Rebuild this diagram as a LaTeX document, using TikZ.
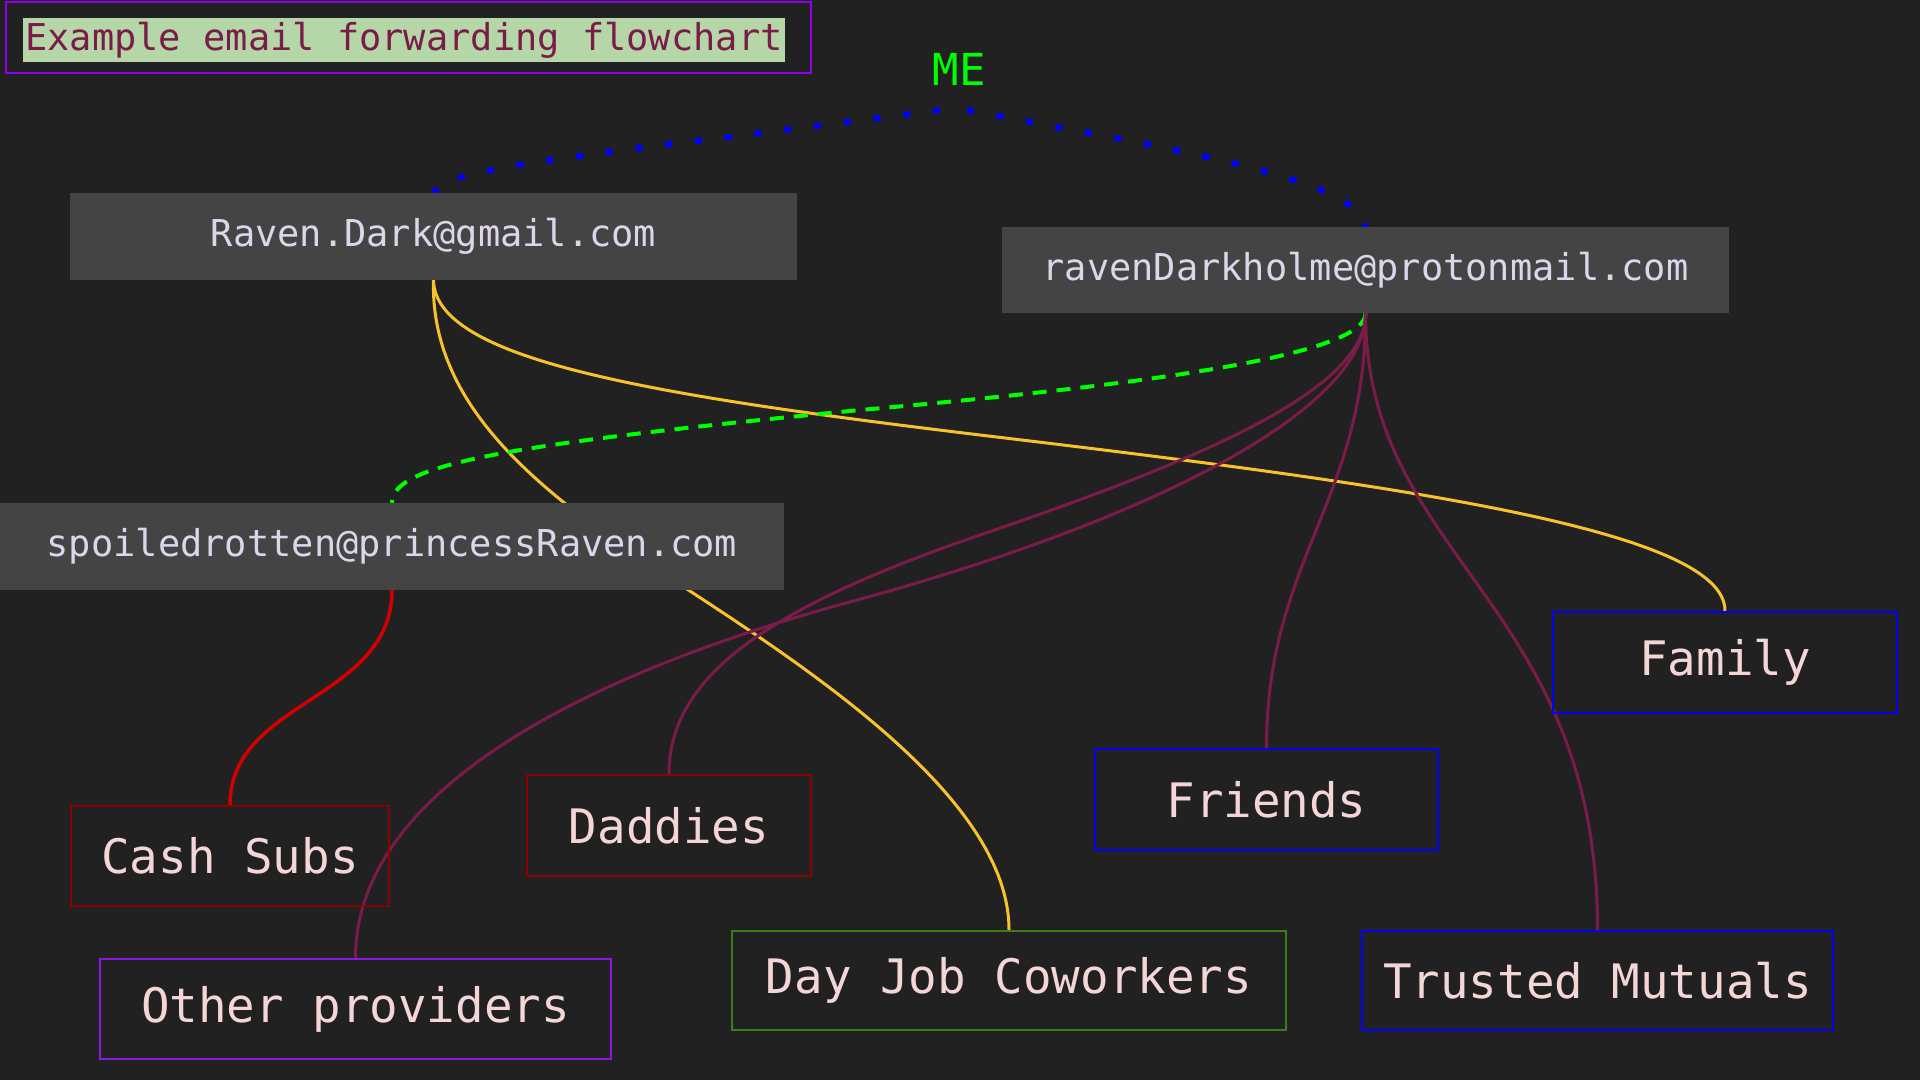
\documentclass[tikz,border=0pt]{standalone}
\usepackage{fontspec}
\setmonofont{DejaVu Sans Mono}
\usetikzlibrary{calc}
\definecolor{bgc}{HTML}{212121}
\definecolor{emailfill}{HTML}{444444}
\definecolor{emailtext}{HTML}{DDD5EA}
\definecolor{leaftext}{HTML}{F5D6D6}
\definecolor{goldline}{HTML}{F7C22C}
\definecolor{maroonline}{HTML}{7B1B4A}
\definecolor{greenline}{HTML}{00FF00}
\definecolor{blueline}{HTML}{0000FF}
\definecolor{redline}{HTML}{D40000}
\definecolor{titlefill}{HTML}{B5D7A8}
\definecolor{titletext}{HTML}{7B1B4A}
\definecolor{titleborder}{HTML}{9400E8}
\definecolor{darkredborder}{HTML}{8B0000}
\definecolor{purpleborder}{HTML}{8B18E0}
\definecolor{greenborder}{HTML}{3B7D1B}
\pgfdeclarelayer{bglayer}
\pgfdeclarelayer{edgelayer}
\pgfsetlayers{bglayer,edgelayer,main}
\tikzset{
  emailbox/.style={fill=emailfill, draw=none, text=emailtext, inner sep=0pt,
    font=\ttfamily\fontsize{37}{40}\selectfont},
  leafbox/.style={draw, line width=2.5pt, text=leaftext, inner sep=0pt,
    font=\ttfamily\fontsize{47.5}{50}\selectfont},
  goldedge/.style={draw=goldline, line width=3pt},
  maroonedge/.style={draw=maroonline, line width=3pt},
  rededge/.style={draw=redline, line width=3.5pt},
  greenedge/.style={draw=greenline, line width=4pt, dash pattern=on 14pt off 10pt},
  blueedge/.style={draw=blueline, line width=6pt, dash pattern=on 7pt off 23pt},
}
\begin{document}
\begin{tikzpicture}[x=1pt,y=-1pt]
\useasboundingbox (0,0) rectangle (1920,1080);
\begin{pgfonlayer}{bglayer}
\fill[bgc] (0,0) rectangle (1920,1080);
\end{pgfonlayer}

% title
\node[draw=titleborder, line width=2.5pt, minimum width=805pt, minimum height=71pt, inner sep=0pt] (titleframe) at (408.5,37.5) {};
\node[fill=titlefill, text=titletext, minimum width=762pt, minimum height=44pt, inner sep=0pt,
  font=\ttfamily\fontsize{37}{40}\selectfont] (title) at (404,40) {Example email forwarding flowchart};

% ME
\node[text=greenline, inner sep=0pt, font=\ttfamily\fontsize{44}{48}\selectfont] (ME) at (959,69) {ME};
\coordinate (meL) at (940,110);
\coordinate (meR) at (967,110);

% email boxes
\node[emailbox, minimum width=727pt, minimum height=87pt] (gmail) at (433.5,236.5) {Raven.Dark@gmail.com};
\node[emailbox, minimum width=727pt, minimum height=86pt] (proton) at (1365.5,270) {ravenDarkholme@protonmail.com};
\node[emailbox, minimum width=784pt, minimum height=87pt] (spoiled) at (392,546.5) {spoiledrotten@princessRaven.com};

% leaf boxes
\node[leafbox, draw=darkredborder, minimum width=318pt, minimum height=100pt] (cash) at (230,856) {Cash Subs};
\node[leafbox, draw=darkredborder, minimum width=284pt, minimum height=101pt] (daddies) at (669,825.5) {Daddies};
\node[leafbox, draw=purpleborder, minimum width=511pt, minimum height=100pt] (other) at (355.5,1009) {Other providers};
\node[leafbox, draw=greenborder, minimum width=554pt, minimum height=99pt] (dayjob) at (1009,980.5) {Day Job Coworkers};
\node[leafbox, draw=blueline, minimum width=343pt, minimum height=101pt] (friends) at (1266.5,799.5) {Friends};
\node[leafbox, draw=blueline, minimum width=471pt, minimum height=99pt] (trusted) at (1597.5,980.5) {Trusted Mutuals};
\node[leafbox, draw=blueline, minimum width=344pt, minimum height=101pt] (family) at (1725,662.5) {Family};

\begin{pgfonlayer}{edgelayer}
% ME links
\draw[blueedge] (meL) .. controls (600,155) and (450,165) .. (gmail.north);
\draw[blueedge] (meR) .. controls (1180,150) and (1360,180) .. (proton.north);
% gmail links
\draw[goldedge] (gmail.south) .. controls (430,400) and (530,480) .. (620,545)
  .. controls (750,633) and (1009,780) .. (dayjob.north);
\draw[goldedge] (gmail.south) .. controls (435,360) and (650,395) .. (980,435)
  .. controls (1400,485) and (1725,530) .. (family.north);
% proton links
\draw[greenedge] (proton.south) .. controls (1366,350) and (1200,380) .. (860,410)
  .. controls (500,445) and (392,465) .. (spoiled.north);
\draw[maroonedge] (proton.south) .. controls (1366,390) and (1200,460) .. (980,535)
  .. controls (760,610) and (669,680) .. (daddies.north);
\draw[maroonedge] (proton.south) .. controls (1366,410) and (1150,520) .. (857,600)
  .. controls (560,680) and (355.5,800) .. (other.north);
\draw[maroonedge] (proton.south) .. controls (1366,500) and (1266.5,560) .. (friends.north);
\draw[maroonedge] (proton.south) .. controls (1366,560) and (1597.5,600) .. (trusted.north);
% spoiled link
\draw[rededge] (spoiled.south) .. controls (392,700) and (230,700) .. (cash.north);
\end{pgfonlayer}
\end{tikzpicture}
\end{document}
